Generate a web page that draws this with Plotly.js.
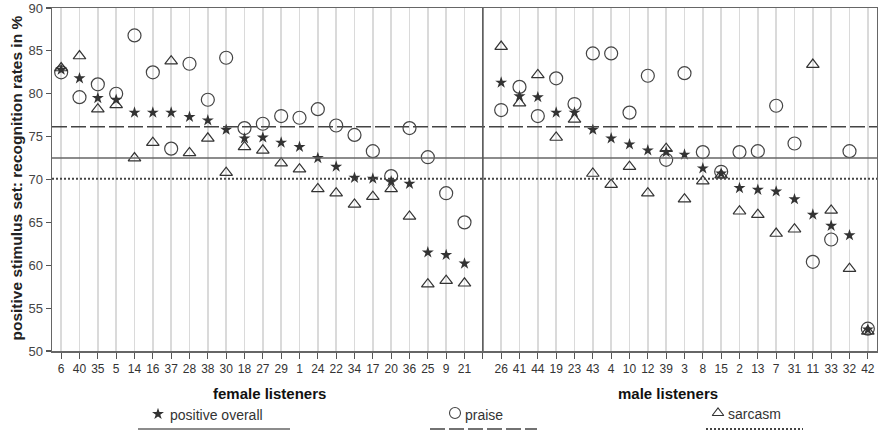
<!DOCTYPE html>
<html><head><meta charset="utf-8">
<script src="https://cdn.plot.ly/plotly-3.0.1.min.js"></script>
<style>html,body{margin:0;padding:0;background:#fff}#chart{width:878px;height:436px}</style>
</head><body><div id="chart"></div>
<script>
// ---- data ----
const femaleListeners = ['6','40','35','5','14','16','37','28','38','30','18','27','29','1','24','22','34','17','20','36','25','9','21'];
const femaleOverall  = [82.8,81.8,79.5,79.3,77.8,77.8,77.8,77.3,76.9,75.8,74.8,74.9,74.3,73.8,72.5,71.5,70.2,70.1,69.8,69.5,61.5,61.2,60.2];
const femalePraise   = [82.5,79.6,81.1,80.0,86.8,82.5,73.6,83.5,79.3,84.2,76.0,76.5,77.4,77.2,78.2,76.3,75.2,73.3,70.4,76.0,72.6,68.4,65.0];
const femaleSarcasm  = [83.0,84.4,78.2,78.7,72.5,74.3,83.8,73.1,74.8,70.8,73.8,73.4,71.9,71.2,68.9,68.4,67.1,68.0,68.9,65.7,57.8,58.2,57.9];

const maleListeners = ['26','41','44','19','23','43','4','10','12','39','3','8','15','2','13','7','31','11','33','32','42'];
const maleOverall   = [81.3,79.7,79.6,77.8,77.8,75.8,74.8,74.1,73.4,73.2,72.9,71.3,70.7,69.0,68.8,68.6,67.7,65.9,64.6,63.5,52.5];
const malePraise    = [78.1,80.8,77.4,81.8,78.8,84.7,84.7,77.8,82.1,72.3,82.4,73.2,70.9,73.2,73.3,78.6,74.2,60.4,63.0,73.3,52.6];
const maleSarcasm   = [85.5,78.9,82.2,74.9,77.0,70.7,69.4,71.5,68.4,73.6,67.7,69.8,70.5,66.3,65.9,63.7,64.2,83.4,66.4,59.6,52.3];

const meanOverall = 72.5;
const meanPraise = 76.15;
const meanSarcasm = 70.1;

const seriesNames = ['positive overall','praise','sarcasm'];
const groupTitles = ['female listeners','male listeners'];
const yTitle = 'positive stimulus set: recognition rates in %';

// ---- build ----
const gap = femaleListeners.length;
const femaleX = femaleListeners.map((_, i) => i);
const maleX = maleListeners.map((_, i) => gap + 1 + i);
const allX = femaleX.concat(maleX);
const tickvals = femaleX.concat([gap], maleX);
const ticktext = femaleListeners.concat([''], maleListeners);
const nSlots = femaleListeners.length + 1 + maleListeners.length;

const FONT = 'Arial, "Liberation Sans", sans-serif';
const mkCircle = {symbol:'circle-open', size:13, color:'#444', line:{color:'#444', width:1.2}};
const mkTri = {symbol:'triangle-up-open', size:11, color:'#333', line:{color:'#333', width:1.2}};
const mkStar = {symbol:'star', size:9, color:'#333', line:{color:'#333', width:0}};
const lgCircle = {symbol:'circle-open', size:11, color:'#444', line:{color:'#444', width:1.1}};
const lgTri = {symbol:'triangle-up-open', size:10, color:'#333', line:{color:'#333', width:1.1}};

const traces = [
  {x: allX, y: femalePraise.concat(malePraise), mode:'markers', marker: mkCircle, name: seriesNames[1], xaxis:'x', yaxis:'y'},
  {x: allX, y: femaleSarcasm.concat(maleSarcasm), mode:'markers', marker: mkTri, name: seriesNames[2], xaxis:'x', yaxis:'y'},
  {x: allX, y: femaleOverall.concat(maleOverall), mode:'markers', marker: mkStar, name: seriesNames[0], xaxis:'x', yaxis:'y'},
  // legend keys (pixel coordinate overlay)
  {x:[158], y:[414], mode:'markers', marker: mkStar, xaxis:'x2', yaxis:'y2', hoverinfo:'skip'},
  {x:[455], y:[413], mode:'markers', marker: lgCircle, xaxis:'x2', yaxis:'y2', hoverinfo:'skip'},
  {x:[718], y:[413], mode:'markers', marker: lgTri, xaxis:'x2', yaxis:'y2', hoverinfo:'skip'}
];

const H = 436, T = 8, B = 2, plotH = H - T - B;
const mainBottomPx = 351;
const yDomLow = (H - B - mainBottomPx) / plotH;
const y2DomHigh = yDomLow - 0.004;
const y2TopPx = (H - B) - y2DomHigh * plotH;

const shapes = [
  {type:'line', xref:'paper', x0:0, x1:1, yref:'y', y0:meanPraise, y1:meanPraise, line:{color:'#444', width:1.5, dash:'15px,4px'}},
  {type:'line', xref:'paper', x0:0, x1:1, yref:'y', y0:meanOverall, y1:meanOverall, line:{color:'#666', width:1.5}},
  {type:'line', xref:'paper', x0:0, x1:1, yref:'y', y0:meanSarcasm, y1:meanSarcasm, line:{color:'#444', width:2, dash:'2px,2px'}},
  {type:'line', xref:'x', x0:gap, x1:gap, yref:'y', y0:50, y1:90, line:{color:'#555', width:1.5}},
  // legend lines
  {type:'line', xref:'x2', x0:138, x1:290, yref:'y2', y0:429, y1:429, line:{color:'#666', width:1.5}},
  {type:'line', xref:'x2', x0:430, x1:537, yref:'y2', y0:429, y1:429, line:{color:'#444', width:1.5, dash:'15px,4px'}},
  {type:'line', xref:'x2', x0:706, x1:803, yref:'y2', y0:429, y1:429, line:{color:'#444', width:2, dash:'2px,2px'}}
];

const annotations = [
  {xref:'x2', yref:'y2', x:269, y:393, text:'<b>'+groupTitles[0]+'</b>', showarrow:false, font:{family:FONT, size:15, color:'#111'}},
  {xref:'x2', yref:'y2', x:668, y:393, text:'<b>'+groupTitles[1]+'</b>', showarrow:false, font:{family:FONT, size:15, color:'#111'}},
  {xref:'x2', yref:'y2', x:168, y:415, xanchor:'left', text:seriesNames[0], showarrow:false, font:{family:FONT, size:14, color:'#333'}},
  {xref:'x2', yref:'y2', x:463, y:415, xanchor:'left', text:seriesNames[1], showarrow:false, font:{family:FONT, size:14, color:'#333'}},
  {xref:'x2', yref:'y2', x:726, y:414, xanchor:'left', text:seriesNames[2], showarrow:false, font:{family:FONT, size:14, color:'#333'}},
  {xref:'paper', yref:'paper', x:(5-52)/825, y:(H - B - 178)/plotH, text:'<b>'+yTitle+'</b>', textangle:-90, showarrow:false, font:{family:FONT, size:15.5, color:'#222'}}
];

const layout = {
  width:878, height:436,
  margin:{l:52, r:1, t:T, b:B},
  paper_bgcolor:'#fff', plot_bgcolor:'#fff',
  showlegend:false,
  font:{family:FONT, color:'#333'},
  xaxis:{
    domain:[0,1], anchor:'y', range:[-0.5, nSlots - 0.5],
    tickmode:'array', tickvals:tickvals, ticktext:ticktext,
    ticks:'outside', ticklen:6, tickwidth:1.2, tickcolor:'#555',
    tickfont:{family:FONT, size:12, color:'#333'},
    showgrid:true, gridcolor:'#dadada', gridwidth:1.5,
    showline:true, linecolor:'#666', linewidth:1.5, mirror:true,
    zeroline:false, fixedrange:true
  },
  yaxis:{
    domain:[yDomLow,1], anchor:'x', range:[50,90],
    tickvals:[50,55,60,65,70,75,80,85,90],
    ticks:'outside', ticklen:5, tickwidth:1.2, tickcolor:'#555',
    tickfont:{family:FONT, size:13, color:'#444'},
    showgrid:false, showline:true, linecolor:'#666', linewidth:1.5, mirror:true,
    zeroline:false, fixedrange:true
  },
  xaxis2:{domain:[0,1], anchor:'y2', range:[52,877], visible:false, fixedrange:true},
  yaxis2:{domain:[0,y2DomHigh], anchor:'x2', range:[H - B, y2TopPx], visible:false, fixedrange:true},
  shapes:shapes,
  annotations:annotations
};

Plotly.newPlot('chart', traces, layout, {displayModeBar:false, staticPlot:true});
</script>
</body></html>
